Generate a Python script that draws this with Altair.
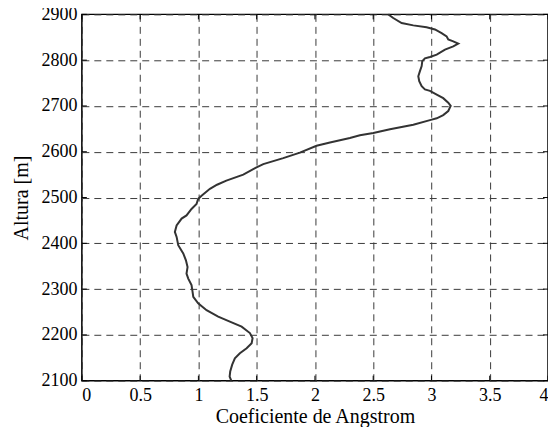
import altair as alt
import pandas as pd

# Angstrom coefficient profile, top to bottom
angstrom = [2.630, 2.672, 2.744, 2.844, 2.958, 3.030, 3.087, 3.130, 3.144, 3.187,
            3.230, 3.187, 3.116, 3.045, 2.987, 2.944, 2.921, 2.916, 2.901, 2.887,
            2.895, 2.916, 2.944, 2.987, 3.045, 3.101, 3.144, 3.165, 3.144, 3.101,
            3.045, 2.987,
            2.844, 2.644, 2.501, 2.386, 2.300, 2.129, 2.014, 1.871, 1.728, 1.557,
            1.499, 1.385, 1.240, 1.160,
            1.099, 1.027, 0.998, 0.984, 0.941, 0.898, 0.856, 0.813, 0.798, 0.813,
            0.827, 0.870, 0.893, 0.907, 0.898, 0.913, 0.941, 0.950, 0.956, 0.998,
            1.070, 1.170, 1.270, 1.371, 1.442, 1.465, 1.457, 1.414, 1.356, 1.313,
            1.290, 1.273, 1.268, 1.282]
altura = [2900, 2892, 2881, 2876, 2872, 2867, 2859, 2852, 2845, 2841,
          2836, 2830, 2823, 2812, 2807, 2804, 2798, 2787, 2776, 2765,
          2754, 2743, 2736, 2733, 2725, 2717, 2707, 2700, 2689, 2680,
          2673, 2669,
          2659, 2649, 2641, 2636, 2630, 2620, 2613, 2598, 2586, 2573,
          2566, 2550, 2537, 2528,
          2519, 2504, 2497, 2486, 2475, 2461, 2454, 2439, 2425, 2414,
          2396, 2378, 2363, 2348, 2334, 2323, 2309, 2294, 2283, 2269,
          2254, 2240, 2229, 2218, 2204, 2193, 2182, 2171, 2160, 2149,
          2135, 2120, 2109, 2100]

x_ticks = [0, 0.5, 1, 1.5, 2, 2.5, 3, 3.5, 4]
y_ticks = [2100, 2200, 2300, 2400, 2500, 2600, 2700, 2800, 2900]
x_title = "Coeficiente de Angstrom"
y_title = "Altura [m]"

W, H = 467, 367
FONT = "Liberation Serif"

df = pd.DataFrame({"a": angstrom, "h": altura, "i": range(len(angstrom))})
xs = alt.Scale(domain=[0, 4], nice=False)
ys = alt.Scale(domain=[2100, 2900], nice=False)
x_axis = alt.Axis(values=x_ticks, grid=True, gridDash=[7, 5], gridColor="#3a3a3a",
                  gridOpacity=1, gridWidth=1, tickSize=0, labelPadding=6,
                  domain=False, labelExpr="datum.value", titlePadding=2)
y_axis = alt.Axis(values=y_ticks, grid=True, gridDash=[7, 5], gridColor="#3a3a3a",
                  gridOpacity=1, gridWidth=1, tickSize=0, labelPadding=5,
                  domain=False, format="d", titlePadding=9)

line = alt.Chart(df).mark_line(color="#333333", strokeWidth=2).encode(
    x=alt.X("a:Q", scale=xs, title=x_title, axis=x_axis),
    y=alt.Y("h:Q", scale=ys, title=y_title, axis=y_axis),
    order="i:O",
)

xt = pd.DataFrame({"v": x_ticks})
yt = pd.DataFrame({"v": y_ticks})
tick_x_bottom = alt.Chart(xt).mark_rule(color="black", strokeWidth=1).encode(
    x=alt.X("v:Q", scale=xs, title=x_title, axis=x_axis), y=alt.value(H), y2=alt.value(H - 5))
tick_x_top = alt.Chart(xt).mark_rule(color="black", strokeWidth=1).encode(
    x=alt.X("v:Q", scale=xs, title=x_title, axis=x_axis), y=alt.value(0), y2=alt.value(5))
tick_y_left = alt.Chart(yt).mark_rule(color="black", strokeWidth=1).encode(
    y=alt.Y("v:Q", scale=ys, title=y_title, axis=y_axis), x=alt.value(0), x2=alt.value(5))
tick_y_right = alt.Chart(yt).mark_rule(color="black", strokeWidth=1).encode(
    y=alt.Y("v:Q", scale=ys, title=y_title, axis=y_axis), x=alt.value(W), x2=alt.value(W - 5))

chart = alt.layer(line, tick_x_bottom, tick_x_top, tick_y_left, tick_y_right).properties(
    width=W, height=H,
    autosize=alt.AutoSizeParams(type="none"),
    padding={"left": 74, "top": 6, "right": 0, "bottom": 46},
    background="white",
).configure_view(
    stroke="black", strokeWidth=1.5
).configure_axis(
    labelFont=FONT, titleFont=FONT, labelFontSize=18, titleFontSize=20,
    labelColor="black", titleColor="black", titleFontWeight="normal",
)

chart.save("out.html", embed_options={"renderer": "svg", "actions": False})
